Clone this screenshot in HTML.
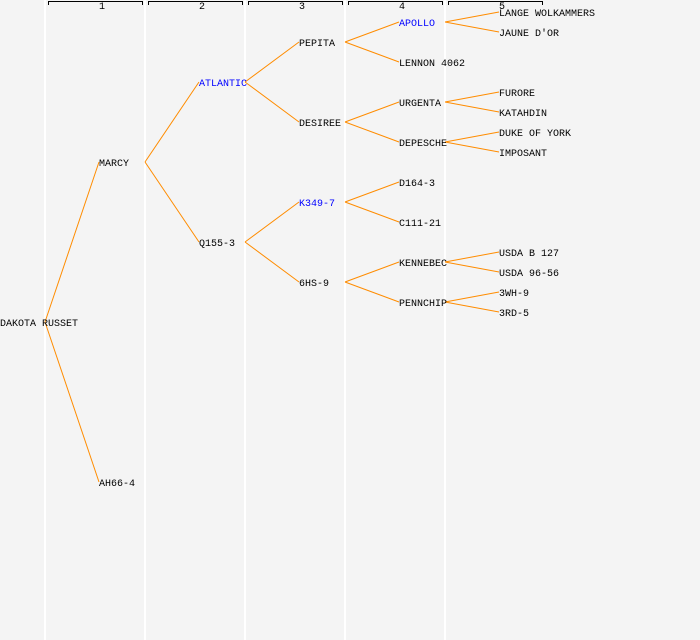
<!DOCTYPE html>
<html><head><style>html,body{margin:0;padding:0;background:#f4f4f4}svg{display:block}text{font-family:"Liberation Mono",monospace;font-size:10px}</style></head><body>
<svg width="700" height="640" xmlns="http://www.w3.org/2000/svg">
<rect width="700" height="640" fill="#f4f4f4"/>
<g stroke="#ffffff" stroke-width="2">
<line x1="45" y1="0" x2="45" y2="640"/><line x1="145" y1="0" x2="145" y2="640"/><line x1="245" y1="0" x2="245" y2="640"/><line x1="345" y1="0" x2="345" y2="640"/><line x1="445" y1="0" x2="445" y2="640"/>
</g>
<g stroke="#000" stroke-width="1" fill="none">
<path d="M48.5 5V1.5H142.5V5"/><path d="M148.5 5V1.5H242.5V5"/><path d="M248.5 5V1.5H342.5V5"/><path d="M348.5 5V1.5H442.5V5"/><path d="M448.5 5V1.5H542.5V5"/>
</g>
<g font-size="8" text-anchor="middle" style="font-size:8px">
<text x="102" y="9">1</text><text x="202" y="9">2</text><text x="302" y="9">3</text><text x="402" y="9">4</text><text x="502" y="9">5</text>
</g>
<g stroke="#ff8c00" stroke-width="1" fill="none">
<path d="M45 322L99 162M45 322L99 482"/>
<path d="M145 162L199 82M145 162L199 242"/>
<path d="M245 82L299 42M245 82L299 122M245 242L299 202M245 242L299 282"/>
<path d="M345 42L399 22M345 42L399 62M345 122L399 102M345 122L399 142M345 202L399 182M345 202L399 222M345 282L399 262M345 282L399 302"/>
<path d="M445 22L499 12M445 22L499 32M445 102L499 92M445 102L499 112M445 142L499 132M445 142L499 152M445 262L499 252M445 262L499 272M445 302L499 292M445 302L499 312"/>
</g>
<g fill="#000">
<text x="0" y="326">DAKOTA RUSSET</text>
<text x="99" y="166">MARCY</text><text x="99" y="486">AH66-4</text>
<text x="199" y="86" fill="#0000ff">ATLANTIC</text><text x="199" y="246">Q155-3</text>
<text x="299" y="46">PEPITA</text><text x="299" y="126">DESIREE</text><text x="299" y="206" fill="#0000ff">K349-7</text><text x="299" y="286">6HS-9</text>
<text x="399" y="26" fill="#0000ff">APOLLO</text><text x="399" y="66">LENNON 4062</text><text x="399" y="106">URGENTA</text><text x="399" y="146">DEPESCHE</text><text x="399" y="186">D164-3</text><text x="399" y="226">C111-21</text><text x="399" y="266">KENNEBEC</text><text x="399" y="306">PENNCHIP</text>
<text x="499" y="16">LANGE WOLKAMMERS</text><text x="499" y="36">JAUNE D'OR</text><text x="499" y="96">FURORE</text><text x="499" y="116">KATAHDIN</text><text x="499" y="136">DUKE OF YORK</text><text x="499" y="156">IMPOSANT</text><text x="499" y="256">USDA B 127</text><text x="499" y="276">USDA 96-56</text><text x="499" y="296">3WH-9</text><text x="499" y="316">3RD-5</text>
</g>
</svg>
</body></html>
